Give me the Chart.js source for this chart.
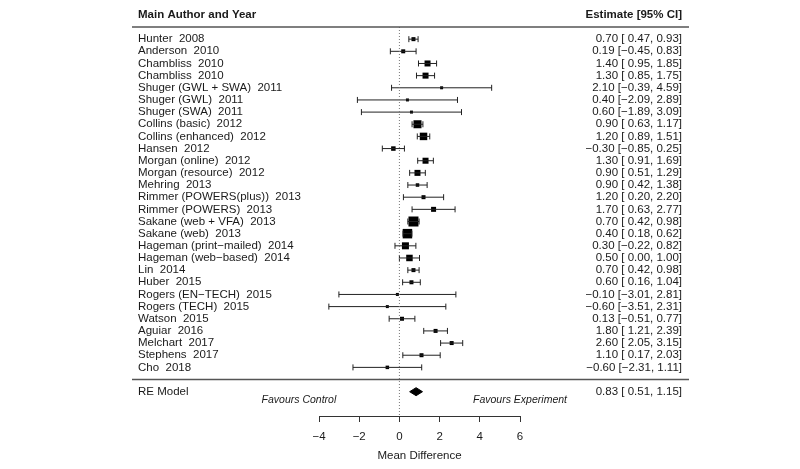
<!DOCTYPE html>
<html>
<head>
<meta charset="utf-8">
<script src="https://cdn.jsdelivr.net/npm/chart.js@4/dist/chart.umd.min.js"></script>
<style>
  html, body { margin: 0; padding: 0; background: #fff; }
  #c { display: block; }
</style>
</head>
<body>
<canvas id="c" width="800" height="469"></canvas>
<script>
// ---- data ----
const authors = [
  "Hunter", "Anderson", "Chambliss", "Chambliss", "Shuger (GWL + SWA)", "Shuger (GWL)",
  "Shuger (SWA)", "Collins (basic)", "Collins (enhanced)", "Hansen", "Morgan (online)",
  "Morgan (resource)", "Mehring", "Rimmer (POWERS(plus))", "Rimmer (POWERS)",
  "Sakane (web + VFA)", "Sakane (web)", "Hageman (print\u2212mailed)", "Hageman (web\u2212based)",
  "Lin", "Huber", "Rogers (EN\u2212TECH)", "Rogers (TECH)", "Watson", "Aguiar",
  "Melchart", "Stephens", "Cho"
];
const years = [
  2008, 2010, 2010, 2010, 2011, 2011, 2011, 2012, 2012, 2012, 2012, 2012, 2013, 2013, 2013,
  2013, 2013, 2014, 2014, 2014, 2015, 2015, 2015, 2015, 2016, 2017, 2017, 2018
];
const estimates = [
  0.70, 0.19, 1.40, 1.30, 2.10, 0.40, 0.60, 0.90, 1.20, -0.30, 1.30, 0.90, 0.90, 1.20, 1.70,
  0.70, 0.40, 0.30, 0.50, 0.70, 0.60, -0.10, -0.60, 0.13, 1.80, 2.60, 1.10, -0.60
];
const lowers = [
  0.47, -0.45, 0.95, 0.85, -0.39, -2.09, -1.89, 0.63, 0.89, -0.85, 0.91, 0.51, 0.42, 0.20, 0.63,
  0.42, 0.18, -0.22, 0.00, 0.42, 0.16, -3.01, -3.51, -0.51, 1.21, 2.05, 0.17, -2.31
];
const uppers = [
  0.93, 0.83, 1.85, 1.75, 4.59, 2.89, 3.09, 1.17, 1.51, 0.25, 1.69, 1.29, 1.38, 2.20, 2.77,
  0.98, 0.62, 0.82, 1.00, 0.98, 1.04, 2.81, 2.31, 0.77, 2.39, 3.15, 2.03, 1.11
];
// relative study weights (estimated from square sizes)
const weights = [
  3, 3, 5, 5, 2, 2, 2, 7, 6.5, 3.5, 5, 5, 2.5, 3, 4,
  9, 8.5, 6, 5.5, 3, 3, 2, 2, 3, 3, 3, 3, 2.5
];
const reModel = { est: 0.83, lower: 0.51, upper: 1.15 };
const xTicks = [-4, -2, 0, 2, 4, 6];
const headerLeft = "Main Author and Year";
const headerRight = "Estimate [95% CI]";
const axisTitle = "Mean Difference";
const favourLabels = ["Favours Control", "Favours Experiment"];

// ---- helpers ----
const MINUS = "\u2212";
function fmt(v) { return (v < 0 ? MINUS : "") + Math.abs(v).toFixed(2); }
function fmtLo(v) { return v < 0 ? fmt(v) : " " + fmt(v); }
function ciText(e, l, u) { return fmt(e) + " [" + fmtLo(l) + ", " + fmt(u) + "]"; }

const FONT = "'Liberation Sans', Arial, sans-serif";
const TEXT = "#1a1a1a";
const REROW = authors.length + 1; // RE model row
const RULE_BOTTOM_ROW = authors.length;

// CI whiskers (one dataset, gaps between studies)
const ciData = [];
estimates.forEach((e, i) => {
  ciData.push({ x: lowers[i], y: i }, { x: uppers[i], y: i }, { x: null, y: null });
});
const squareData = estimates.map((e, i) => ({ x: e, y: i }));
const squareRadius = weights.map(w => (1 + w) / Math.SQRT2);
const dh = 0.33;
const diamondData = [
  { x: reModel.lower, y: REROW }, { x: reModel.est, y: REROW - dh },
  { x: reModel.upper, y: REROW }, { x: reModel.est, y: REROW + dh },
  { x: reModel.lower, y: REROW }
];

const textPlugin = {
  id: 'forestText',
  afterDraw(chart) {
    const ctx = chart.ctx;
    const ys = chart.scales.y, xs = chart.scales.x;
    const L = 132, R = 689, TX = 138, RX = 682;
    ctx.save();
    // rules
    ctx.strokeStyle = '#555';
    ctx.lineWidth = 1.6;
    [ys.getPixelForValue(-1), ys.getPixelForValue(RULE_BOTTOM_ROW)].forEach(py => {
      ctx.beginPath(); ctx.moveTo(L, py); ctx.lineTo(R, py); ctx.stroke();
    });
    // headers
    ctx.fillStyle = TEXT;
    ctx.textBaseline = 'middle';
    ctx.font = "bold 11.5px " + FONT;
    ctx.textAlign = 'left';
    ctx.fillText(headerLeft, TX, 15);
    ctx.textAlign = 'right';
    ctx.fillText(headerRight, RX, 15);
    // rows
    ctx.font = "11.5px " + FONT;
    authors.forEach((a, i) => {
      const py = ys.getPixelForValue(i);
      ctx.textAlign = 'left';
      ctx.fillText(a + "  " + years[i], TX, py);
      ctx.textAlign = 'right';
      ctx.fillText(ciText(estimates[i], lowers[i], uppers[i]), RX, py);
    });
    const pyRE = ys.getPixelForValue(REROW);
    ctx.textAlign = 'left';
    ctx.fillText("RE Model", TX, pyRE);
    ctx.textAlign = 'right';
    ctx.fillText(ciText(reModel.est, reModel.lower, reModel.upper), RX, pyRE);
    // favours
    ctx.font = "italic 10.5px " + FONT;
    ctx.textAlign = 'center';
    const pyF = ys.getPixelForValue(REROW + 0.7);
    ctx.fillText(favourLabels[0], xs.getPixelForValue(-5), pyF);
    ctx.fillText(favourLabels[1], xs.getPixelForValue(6), pyF);
    ctx.restore();
  }
};

new Chart(document.getElementById('c'), {
  type: 'scatter',
  data: {
    datasets: [
      {
        label: 'zero',
        data: [{ x: 0, y: -1 }, { x: 0, y: 31 }],
        showLine: true,
        borderColor: '#777',
        borderWidth: 1,
        borderDash: [1, 2],
        pointRadius: 0
      },
      {
        label: 'CI',
        data: ciData,
        showLine: true,
        spanGaps: false,
        borderColor: '#222',
        borderWidth: 1,
        pointStyle: 'line',
        pointRotation: 90,
        pointRadius: 3,
        pointBorderWidth: 1,
        pointBorderColor: '#222'
      },
      {
        label: 'Estimate',
        data: squareData,
        pointStyle: 'rect',
        pointRadius: squareRadius,
        pointBackgroundColor: '#000',
        pointBorderWidth: 0
      },
      {
        label: 'RE Model',
        data: diamondData,
        showLine: true,
        borderColor: '#000',
        borderWidth: 1,
        backgroundColor: '#000',
        fill: 'shape',
        pointRadius: 0
      }
    ]
  },
  options: {
    responsive: false,
    devicePixelRatio: 1,
    animation: false,
    events: [],
    layout: { padding: { left: 319, right: 280, top: 27, bottom: 0 } },
    plugins: { legend: { display: false }, tooltip: { enabled: false } },
    scales: {
      x: {
        type: 'linear',
        min: -4, max: 6,
        afterBuildTicks: s => { s.ticks = xTicks.map(v => ({ value: v })); },
        afterFit: s => { s.height = 53; },
        grid: { drawOnChartArea: false, drawTicks: true, tickLength: 6, color: '#333', lineWidth: 1 },
        border: { display: true, color: '#333', width: 1 },
        ticks: {
          padding: 8,
          color: TEXT,
          font: { family: FONT, size: 11.5 },
          callback: v => (v < 0 ? MINUS : "") + Math.abs(v)
        },
        title: {
          display: true, text: axisTitle, color: TEXT,
          font: { family: FONT, size: 11.5 },
          padding: { top: 0, bottom: 6 }
        }
      },
      y: {
        type: 'linear', display: false, reverse: true, min: -1, max: 31
      }
    }
  },
  plugins: [textPlugin]
});
</script>
</body>
</html>
